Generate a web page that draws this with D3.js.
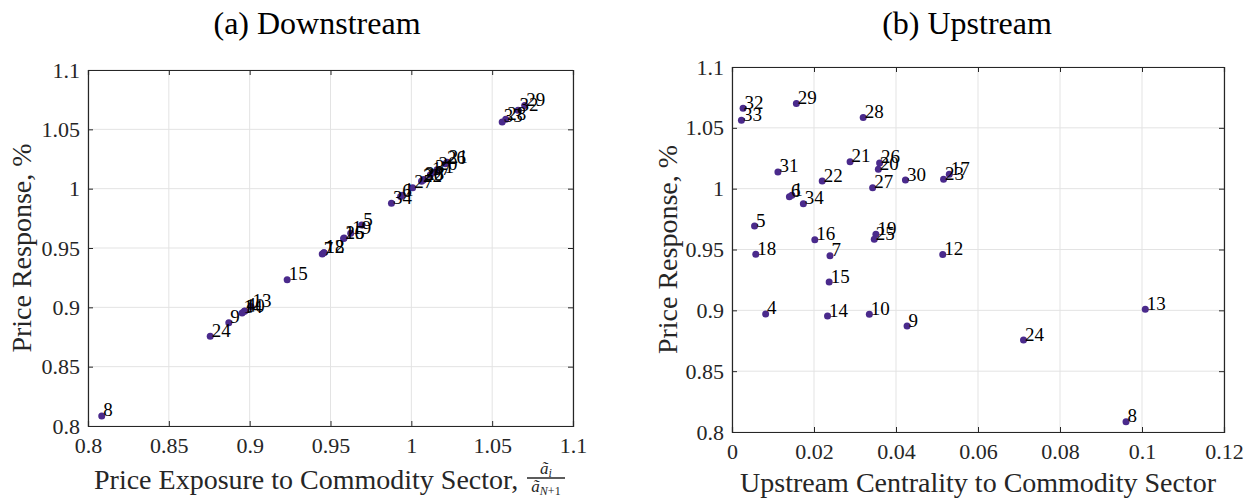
<!DOCTYPE html>
<html>
<head>
<meta charset="utf-8">
<script src="https://cdn.jsdelivr.net/npm/d3@7"></script>
<style>
  body { margin: 0; background: #fff; }
</style>
</head>
<body>
<main></main>
<script>
// sectors shown in both panels (2, 3 and 11 are not plotted)
const sectors = [1, 4, 5, 6, 7, 8, 9, 10, 12, 13, 14, 15, 16, 17, 18, 19, 20,
  21, 22, 23, 24, 25, 26, 27, 28, 29, 30, 31, 32, 33, 34];

// price response, % (y in both panels)
const response = [0.9945, 0.897, 0.9693, 0.9934, 0.9449, 0.8085, 0.8871, 0.8967,
  0.9459, 0.9008, 0.8953, 0.9232, 0.9581, 1.0118, 0.946, 0.9625, 1.0159,
  1.0222, 1.0063, 1.0077, 0.8756, 0.9584, 1.0211, 1.0008, 1.0584, 1.0701,
  1.0071, 1.0137, 1.066, 1.0562, 0.9877];

// price exposure to commodity sector (x, left panel)
const exposure = [0.9945, 0.897, 0.9693, 0.9934, 0.9449, 0.8085, 0.8871, 0.8967,
  0.9459, 0.9008, 0.8953, 0.9232, 0.9581, 1.0118, 0.946, 0.9625, 1.0159,
  1.0222, 1.0063, 1.0077, 0.8756, 0.9584, 1.0211, 1.0008, 1.0584, 1.0701,
  1.0071, 1.0137, 1.066, 1.0562, 0.9877];

// upstream centrality to commodity sector (x, right panel)
const centrality = [0.0146, 0.0082, 0.0055, 0.0140, 0.0239, 0.0961, 0.0427, 0.0335,
  0.0514, 0.1008, 0.0233, 0.0237, 0.0202, 0.0530, 0.0058, 0.0351, 0.0357,
  0.0288, 0.0220, 0.0516, 0.0711, 0.0347, 0.0360, 0.0343, 0.0320, 0.0157,
  0.0423, 0.0112, 0.0027, 0.0023, 0.0174];

const yTicks = [0.8, 0.85, 0.9, 0.95, 1, 1.05, 1.1];
const xTicksLeft = [0.8, 0.85, 0.9, 0.95, 1, 1.05, 1.1];
const xTicksRight = [0, 0.02, 0.04, 0.06, 0.08, 0.1, 0.12];

const width = 1256;
const height = 499;
const font = 'Liberation Serif';
const dotColor = '#4a2a8c';
const axisColor = '#262626';
const gridColor = '#e3e3e3';

const svg = d3.select('main')
  .append('svg')
  .attr('width', width)
  .attr('height', height)
  .attr('viewBox', [0, 0, width, height])
  .attr('font-family', font)
  .style('display', 'block');

function drawPanel({ box, xDomain, xTicks, xValues, title, titleX, ylabelX, drawXLabel }) {
  const x = d3.scaleLinear().domain(xDomain).range([box.left, box.right]);
  const y = d3.scaleLinear().domain([0.8, 1.1]).range([box.bottom, box.top]);
  const g = svg.append('g');

  // grid
  g.append('g')
    .selectAll('line')
    .data(xTicks)
    .join('line')
    .attr('x1', d => x(d)).attr('x2', d => x(d))
    .attr('y1', box.top).attr('y2', box.bottom)
    .attr('stroke', gridColor);
  g.append('g')
    .selectAll('line')
    .data(yTicks)
    .join('line')
    .attr('y1', d => y(d)).attr('y2', d => y(d))
    .attr('x1', box.left).attr('x2', box.right)
    .attr('stroke', gridColor);

  // axes (ticks inside, mirrored on the box)
  const tickLen = 5;
  const xAxis = d3.axisBottom(x).tickValues(xTicks).tickSize(-tickLen).tickPadding(10)
    .tickFormat(d3.format('~g'));
  const yAxis = d3.axisLeft(y).tickValues(yTicks).tickSize(-tickLen).tickPadding(8)
    .tickFormat(d3.format('~g'));

  const gx = g.append('g').attr('transform', `translate(0,${box.bottom})`).call(xAxis);
  const gy = g.append('g').attr('transform', `translate(${box.left},0)`).call(yAxis);
  const gxTop = g.append('g').attr('transform', `translate(0,${box.top})`)
    .call(d3.axisTop(x).tickValues(xTicks).tickSize(-tickLen).tickFormat(''));
  const gyRight = g.append('g').attr('transform', `translate(${box.right},0)`)
    .call(d3.axisRight(y).tickValues(yTicks).tickSize(-tickLen).tickFormat(''));

  [gx, gy, gxTop, gyRight].forEach(a => {
    a.attr('font-family', font).attr('font-size', 22);
    a.select('.domain').attr('stroke', axisColor).attr('stroke-width', 1.2);
    a.selectAll('.tick line').attr('stroke', axisColor);
    a.selectAll('.tick text').attr('fill', axisColor);
  });
  gx.selectAll('.tick text').attr('dy', '0.78em');

  // points
  const pts = sectors.map((s, i) => ({ s, xv: xValues[i], yv: response[i] }));
  g.append('g')
    .selectAll('circle')
    .data(pts)
    .join('circle')
    .attr('cx', d => x(d.xv))
    .attr('cy', d => y(d.yv))
    .attr('r', 3.5)
    .attr('fill', dotColor);

  g.append('g')
    .selectAll('text')
    .data(pts)
    .join('text')
    .attr('x', d => x(d.xv) + 1.5)
    .attr('y', d => y(d.yv) + 0.5)
    .attr('font-size', 19)
    .attr('fill', '#000')
    .text(d => d.s);

  // title
  svg.append('text')
    .attr('x', titleX)
    .attr('y', 34)
    .attr('text-anchor', 'middle')
    .attr('font-size', 32)
    .attr('fill', '#000')
    .text(title);

  // y label
  svg.append('text')
    .attr('transform', `translate(${ylabelX},${(box.top + box.bottom) / 2}) rotate(-90)`)
    .attr('text-anchor', 'middle')
    .attr('font-size', 28)
    .attr('fill', axisColor)
    .text('Price Response, %');

  drawXLabel(box);
}

drawPanel({
  box: { left: 88, right: 573, top: 70, bottom: 426 },
  xDomain: [0.8, 1.1],
  xTicks: xTicksLeft,
  xValues: exposure,
  title: '(a) Downstream',
  titleX: 317,
  ylabelX: 31,
  drawXLabel: box => {
    svg.append('text')
      .attr('x', 94)
      .attr('y', 489)
      .attr('font-size', 28)
      .attr('fill', axisColor)
      .text('Price Exposure to Commodity Sector,');
    const num = svg.append('text')
      .attr('x', 546).attr('y', 474)
      .attr('text-anchor', 'middle')
      .attr('font-size', 17)
      .attr('font-style', 'italic')
      .attr('fill', axisColor);
    num.append('tspan').text('ã');
    num.append('tspan').attr('font-size', 12).attr('dy', 3).text('i');
    svg.append('line')
      .attr('x1', 527).attr('x2', 565)
      .attr('y1', 478).attr('y2', 478)
      .attr('stroke', axisColor).attr('stroke-width', 1.4);
    const den = svg.append('text')
      .attr('x', 546).attr('y', 492)
      .attr('text-anchor', 'middle')
      .attr('font-size', 17)
      .attr('font-style', 'italic')
      .attr('fill', axisColor);
    den.append('tspan').text('ã');
    den.append('tspan').attr('font-size', 12).attr('dy', 3).text('N');
    den.append('tspan').attr('font-size', 12).attr('font-style', 'normal').text('+1');
  },
});

drawPanel({
  box: { left: 732, right: 1224, top: 67, bottom: 432 },
  xDomain: [0, 0.12],
  xTicks: xTicksRight,
  xValues: centrality,
  title: '(b) Upstream',
  titleX: 967,
  ylabelX: 677,
  drawXLabel: box => {
    svg.append('text')
      .attr('x', (box.left + box.right) / 2)
      .attr('y', 492)
      .attr('text-anchor', 'middle')
      .attr('font-size', 28)
      .attr('fill', axisColor)
      .text('Upstream Centrality to Commodity Sector');
  },
});
</script>
</body>
</html>
